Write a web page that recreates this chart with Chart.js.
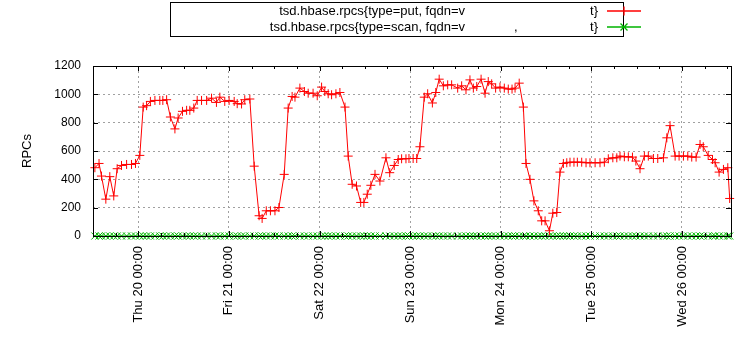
<!DOCTYPE html>
<html>
<head>
<meta charset="utf-8">
<script src="https://cdn.jsdelivr.net/npm/chart.js@4"></script>
<style>body{margin:0;background:#fff}</style>
</head>
<body>
<canvas id="rpcChart" width="750" height="350"></canvas>
<script>
// hours relative to Thu 20 00:00
const hours = [
  -11.5, -10.4, -9.75, -8.6, -7.55, -6.5, -5.6, -4.45, -3.1, -1.8, -0.75, 0.4, 1.3, 2.2, 3.2, 4.4, 5.7, 6.5, 7.5, 8.5, 9.7, 10.55, 11.7, 12.8, 13.65, 14.7, 15.6,
  16.75, 18.1, 19.4, 20.7, 21.6, 22.9, 24.05, 25.4, 26.2, 27.35, 28.2, 29.55, 30.7, 32.0, 32.8, 33.9, 35.0, 36.2, 37.25, 38.65, 39.7, 40.75, 41.5, 42.8,
  44.0, 45.0, 46.3, 47.4, 48.55, 49.4, 50.3, 51.2, 52.35, 53.4, 54.75, 55.6, 56.65, 57.8, 58.9, 59.75, 60.65, 61.6, 62.7, 64.0, 65.6, 66.6, 67.8, 68.85, 69.75, 70.9,
  71.7, 72.8, 73.75, 74.6, 75.75, 76.65, 77.9, 78.8, 79.7, 80.8, 81.95, 83.0, 84.6, 85.65, 86.8, 87.85, 88.75, 89.65, 90.8, 91.85, 92.7, 93.6, 94.65, 95.8, 96.95, 98.0, 99.0,
  99.8, 100.9, 102.0, 102.7, 103.75, 104.8, 105.95, 106.85, 107.75, 108.9, 109.8, 110.85, 111.7, 112.6, 113.5, 114.35, 115.4, 116.3, 117.45, 118.6, 119.65, 121.0, 122.3, 123.45, 124.5, 125.7, 126.75,
  127.6, 128.75, 129.8, 130.9, 131.8, 132.9, 134.05, 135.1, 136.45, 137.6, 139.1, 140.0, 140.85, 142.2, 143.25, 144.4, 145.55, 146.6, 147.75, 148.8, 149.65, 150.95, 152.1, 152.8, 153.85, 155.0, 156.15, 156.65
];

const putRpcs = [
  482, 512, 423, 260, 419, 283, 475, 498, 505, 505, 512, 569, 910, 920, 950, 957, 957, 957, 962, 840, 756, 833, 880, 887, 887, 903, 957,
  957, 957, 973, 943, 980, 950, 957, 950, 934, 932, 962, 967, 493, 143, 124, 178, 178, 178, 201, 435, 903, 985, 980, 1044,
  1020, 1008, 1008, 990, 1051, 1020, 1004, 997, 1004, 1013, 910, 564, 365, 353, 237, 237, 295, 358, 435, 388, 552, 447, 498, 540, 545, 545,
  547, 547, 547, 630, 980, 1004, 939, 1013, 1107, 1060, 1067, 1067, 1044, 1060, 1032, 1102, 1044, 1055, 1107, 1008, 1090, 1074, 1044, 1051, 1044, 1037, 1037,
  1044, 1079, 910, 512, 400, 248, 178, 107, 107, 37, 161, 166, 451, 512, 517, 521, 521, 521, 521, 517, 517, 517, 517, 521, 545, 552, 552,
  564, 559, 559, 557, 529, 475, 564, 564, 547, 547, 552, 693, 779, 564, 564, 564, 564, 557, 557, 646, 630, 569, 540, 517, 451, 470, 482, 265
];

const scanRpcs = [
  0, 0, 0, 0, 0, 0, 0, 0, 0, 0, 0, 0, 0, 0, 0, 0, 0, 0, 0, 0, 0, 0, 0, 0, 0, 0, 0,
  0, 0, 0, 0, 0, 0, 0, 0, 0, 0, 0, 0, 0, 0, 0, 0, 0, 0, 0, 0, 0, 0, 0, 0,
  0, 0, 0, 0, 0, 0, 0, 0, 0, 0, 0, 0, 0, 0, 0, 0, 0, 0, 0, 0, 0, 0, 0, 0, 0, 0,
  0, 0, 0, 0, 0, 0, 0, 0, 0, 0, 0, 0, 0, 0, 0, 0, 0, 0, 0, 0, 0, 0, 0, 0, 0, 0, 0,
  0, 0, 0, 0, 0, 0, 0, 0, 0, 0, 0, 0, 0, 0, 0, 0, 0, 0, 0, 0, 0, 0, 0, 0, 0, 0, 0,
  0, 0, 0, 0, 0, 0, 0, 0, 0, 0, 0, 0, 0, 0, 0, 0, 0, 0, 0, 0, 0, 0, 0, 0, 0, 0, 0, 0
];

const dayHours = [0, 24, 48, 72, 96, 120, 144];
const dayLabels = ['Thu 20 00:00', 'Fri 21 00:00', 'Sat 22 00:00', 'Sun 23 00:00', 'Mon 24 00:00', 'Tue 25 00:00', 'Wed 26 00:00'];

const seriesNames = [
  ['tsd.hbase.rpcs{type=put, fqdn=v', '', 't}'],
  ['tsd.hbase.rpcs{type=scan, fqdn=v', ',', 't}']
];
const seriesColors = ['#ff0000', '#00b400'];

const FONT = '"Liberation Sans", Arial, sans-serif';

// gnuplot-like frame with inward tick marks on all four sides
const framePlugin = {
  id: 'frame',
  afterDatasetsDraw(chart) {
    const {ctx, chartArea: a, scales: {x, y}} = chart;
    ctx.save();
    ctx.setLineDash([]);
    ctx.strokeStyle = '#000';
    ctx.lineWidth = 1;
    ctx.strokeRect(Math.round(a.left) + 0.5, Math.round(a.top) + 0.5,
      Math.round(a.right - a.left), Math.round(a.bottom - a.top));
    ctx.beginPath();
    for (let v = 0; v <= 1200; v += 200) {
      const py = Math.round(y.getPixelForValue(v)) + 0.5;
      ctx.moveTo(a.left, py); ctx.lineTo(a.left + 5, py);
      ctx.moveTo(a.right, py); ctx.lineTo(a.right - 5, py);
    }
    for (let h = -6; h <= 156; h += 6) {
      const px = Math.round(x.getPixelForValue(h)) + 0.5;
      const len = h % 24 === 0 ? 5 : 3;
      ctx.moveTo(px, a.bottom); ctx.lineTo(px, a.bottom - len);
      ctx.moveTo(px, a.top); ctx.lineTo(px, a.top + len);
    }
    ctx.stroke();
    ctx.restore();
  }
};

// key box at the top, text right aligned with line sample after it
const keyPlugin = {
  id: 'key',
  afterDraw(chart) {
    const ctx = chart.ctx;
    ctx.save();
    ctx.setLineDash([]);
    ctx.lineWidth = 1;
    ctx.strokeStyle = '#000';
    ctx.strokeRect(170.5, 2.5, 453, 34);
    ctx.font = '13px ' + FONT;
    ctx.textBaseline = 'middle';
    seriesNames.forEach((parts, i) => {
      const ty = 11 + i * 16;
      ctx.fillStyle = '#000';
      ctx.textAlign = 'right';
      ctx.fillText(parts[0], 465, ty);
      ctx.fillText(parts[2], 598, ty);
      if (parts[1]) {
        ctx.textAlign = 'left';
        ctx.fillText(parts[1], 514, ty);
      }
      // line sample with its point marker
      ctx.strokeStyle = seriesColors[i];
      ctx.lineWidth = 1.3;
      ctx.beginPath();
      ctx.moveTo(607, ty); ctx.lineTo(641, ty);
      if (i === 0) {
        ctx.moveTo(624, ty - 4.5); ctx.lineTo(624, ty + 4.5);
      } else {
        ctx.moveTo(620.5, ty - 3.5); ctx.lineTo(627.5, ty + 3.5);
        ctx.moveTo(627.5, ty - 3.5); ctx.lineTo(620.5, ty + 3.5);
      }
      ctx.stroke();
    });
    ctx.restore();
  }
};

const data = {
  datasets: [
    {
      label: 'put',
      data: hours.map((h, i) => ({x: h, y: putRpcs[i]})),
      borderColor: seriesColors[0],
      backgroundColor: seriesColors[0],
      borderWidth: 1,
      pointStyle: 'cross',
      pointRadius: 4.5,
      pointBorderWidth: 1,
      clip: false
    },
    {
      label: 'scan',
      data: hours.map((h, i) => ({x: h, y: scanRpcs[i]})),
      borderColor: seriesColors[1],
      backgroundColor: seriesColors[1],
      borderWidth: 1,
      pointStyle: 'crossRot',
      pointRadius: 5,
      pointBorderWidth: 1,
      clip: false
    }
  ]
};

const config = {
  type: 'line',
  data: data,
  options: {
    responsive: false,
    animation: false,
    layout: {padding: {left: 0, right: 19, top: 66, bottom: 0}},
    plugins: {
      legend: {display: false},
      tooltip: {enabled: false}
    },
    scales: {
      x: {
        type: 'linear',
        min: -12,
        max: 157,
        afterBuildTicks(axis) { axis.ticks = dayHours.map(v => ({value: v})); },
        afterFit(axis) { axis.height = 114; },
        grid: {color: '#a0a0a0', drawTicks: false},
        border: {display: false, dash: [2, 3]},
        ticks: {
          color: '#000',
          font: {family: FONT, size: 13},
          minRotation: 90,
          maxRotation: 90,
          padding: 10,
          callback: (v) => dayLabels[dayHours.indexOf(v)]
        }
      },
      y: {
        min: 0,
        max: 1200,
        afterFit(axis) { axis.width = 93; },
        grid: {color: '#a0a0a0', drawTicks: false},
        border: {display: false, dash: [2, 3]},
        title: {
          display: true,
          text: 'RPCs',
          color: '#000',
          font: {family: FONT, size: 13},
          padding: {top: 20, bottom: 0}
        },
        ticks: {
          stepSize: 200,
          color: '#000',
          font: {family: FONT, size: 12},
          padding: 12,
          callback: (v) => String(v)
        }
      }
    }
  },
  plugins: [framePlugin, keyPlugin]
};

const rpcChart = new Chart(document.getElementById('rpcChart'), config);
</script>
</body>
</html>
